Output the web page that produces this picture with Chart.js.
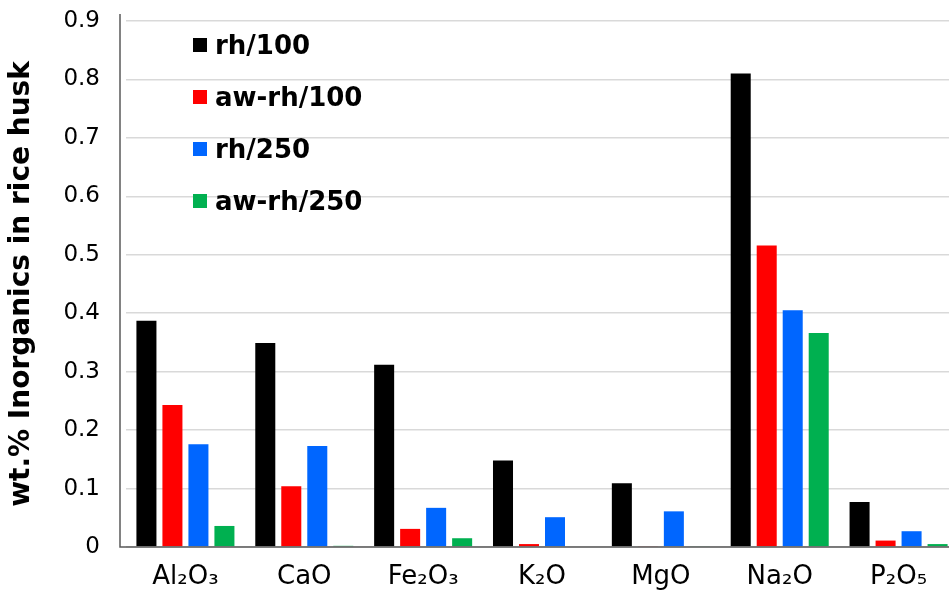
<!DOCTYPE html>
<html>
<head>
<meta charset="utf-8">
<script src="https://cdn.jsdelivr.net/npm/chart.js@4"></script>
<style>
    body { margin: 0; background: #fff; overflow: hidden; }
    #wrap { position: relative; width: 949px; height: 601px; overflow: hidden; }
    #legend { position: absolute; left: 193px; top: 19px; font-family: "DejaVu Sans", sans-serif; font-weight: bold; font-size: 26px; }
    #legend .row { display: flex; align-items: center; height: 52px; }
    #legend .box { width: 14px; height: 14px; margin-right: 8px; }
</style>
</head>
<body>
<div id="wrap">
    <canvas id="chart" width="960" height="601"></canvas>
    <div id="legend"></div>
</div>
<script>
// Data
const categories = ["Al₂O₃", "CaO", "Fe₂O₃", "K₂O", "MgO", "Na₂O", "P₂O₅"];
const seriesNames = ["rh/100", "aw-rh/100", "rh/250", "aw-rh/250"];
const rh100 = [0.387, 0.349, 0.312, 0.148, 0.109, 0.810, 0.077];
const awRh100 = [0.243, 0.104, 0.031, 0.005, 0.001, 0.516, 0.011];
const rh250 = [0.176, 0.173, 0.067, 0.051, 0.061, 0.405, 0.027];
const awRh250 = [0.036, 0.002, 0.015, 0.000, 0.001, 0.366, 0.005];
const colors = ["#000000", "#ff0000", "#0066ff", "#00b050"];

// Axis lines drawn a little left of the plot, like the original
const axisLines = {
    id: "axisLines",
    afterDraw(chart) {
        const { ctx, chartArea } = chart;
        ctx.save();
        ctx.strokeStyle = "#595959";
        ctx.lineWidth = 1.5;
        ctx.beginPath();
        ctx.moveTo(120, 14);
        ctx.lineTo(120, chartArea.bottom);
        ctx.lineTo(chartArea.right, chartArea.bottom);
        ctx.stroke();
        ctx.restore();
    }
};

const chart = new Chart(document.getElementById("chart"), {
    type: "bar",
    data: {
        labels: categories,
        datasets: [rh100, awRh100, rh250, awRh250].map((d, i) => ({
            label: seriesNames[i],
            data: d,
            backgroundColor: colors[i],
            categoryPercentage: 0.875,
            barPercentage: 0.77
        }))
    },
    options: {
        responsive: false,
        animation: false,
        devicePixelRatio: 1,
        layout: { padding: { top: 21, right: 2, left: 0, bottom: 0 } },
        plugins: {
            legend: { display: false },
            tooltip: { enabled: false }
        },
        scales: {
            x: {
                grid: { display: false, drawTicks: false },
                border: { display: false },
                ticks: {
                    color: "#000",
                    padding: 15,
                    maxRotation: 0,
                    font: { family: "DejaVu Sans", size: 26 }
                },
                afterFit(scale) { scale.height = 54; }
            },
            y: {
                min: 0,
                max: 0.9,
                // invisible tick marks keep the labels away from the plot
                grid: { color: "#d9d9d9", lineWidth: 1.5, drawTicks: true, tickLength: 20, tickColor: "rgba(0,0,0,0)" },
                border: { display: false },
                ticks: {
                    stepSize: 0.1,
                    color: "#000",
                    padding: 6,
                    font: { family: "DejaVu Sans", size: 23 },
                    callback: v => v === 0 ? "0" : v.toFixed(1)
                },
                title: {
                    display: true,
                    text: "wt.% Inorganics in rice husk",
                    color: "#000",
                    padding: { top: 5, bottom: 0 },
                    font: { family: "DejaVu Sans", size: 28, weight: "bold" }
                },
                afterFit(scale) { scale.width = 126; }
            }
        }
    },
    plugins: [axisLines]
});

// Legend inside the plot, top left
document.getElementById("legend").innerHTML = chart.data.datasets
    .map(ds => `<div class="row"><div class="box" style="background:${ds.backgroundColor}"></div>${ds.label}</div>`)
    .join("");
</script>
</body>
</html>
